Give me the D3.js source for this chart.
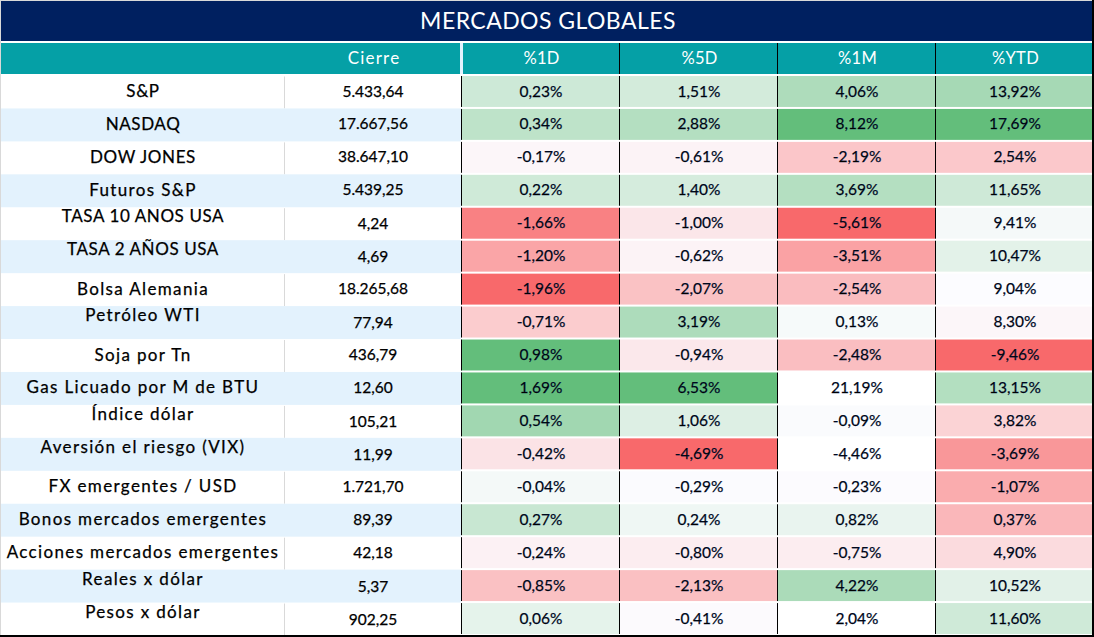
<!DOCTYPE html>
<html>
<head>
<meta charset="utf-8">
<script src="https://cdn.jsdelivr.net/npm/d3@7.9.0/dist/d3.min.js"></script>
<style>
  html, body { margin: 0; padding: 0; background: #fff; }
  svg { display: block; }
  text { font-family: "Lato", sans-serif; }
  .fila text { stroke: #000; stroke-width: 0.25; }
  .celda text { stroke: #002060; stroke-width: 0.25; }
</style>
</head>
<body>
<svg id="tabla" width="1094" height="637"></svg>
<script>
const titulo = 'MERCADOS GLOBALES';
const columnas = ['%1D', '%5D', '%1M', '%YTD'];

const activos = ['S&P', 'NASDAQ', 'DOW JONES', 'Futuros S&P', 'TASA 10 ANOS USA', 'TASA 2 AÑOS USA',
  'Bolsa Alemania', 'Petróleo WTI', 'Soja por Tn', 'Gas Licuado por M de BTU', 'Índice dólar',
  'Aversión el riesgo (VIX)', 'FX emergentes / USD', 'Bonos mercados emergentes',
  'Acciones mercados emergentes', 'Reales x dólar', 'Pesos x dólar'];

const cierre = [5433.64, 17667.56, 38647.10, 5439.25, 4.24, 4.69, 18265.68, 77.94, 436.79, 12.60,
  105.21, 11.99, 1721.70, 89.39, 42.18, 5.37, 902.25];

const var1D = [0.23, 0.34, -0.17, 0.22, -1.66, -1.20, -1.96, -0.71, 0.98, 1.69, 0.54, -0.42, -0.04, 0.27, -0.24, -0.85, 0.06];
const var5D = [1.51, 2.88, -0.61, 1.40, -1.00, -0.62, -2.07, 3.19, -0.94, 6.53, 1.06, -4.69, -0.29, 0.24, -0.80, -2.13, -0.41];
const var1M = [4.06, 8.12, -2.19, 3.69, -5.61, -3.51, -2.54, 0.13, -2.48, 21.19, -0.09, -4.46, -0.23, 0.82, -0.75, 4.22, 2.04];
const varYTD = [13.92, 17.69, 2.54, 11.65, 9.41, 10.47, 9.04, 8.30, -9.46, 13.15, 3.82, -3.69, -1.07, 0.37, 4.90, 10.52, 11.60];

// filas cuyo texto quedo alineado arriba en la planilla
const filasArriba = ['TASA 10 ANOS USA', 'TASA 2 AÑOS USA', 'Petróleo WTI', 'Índice dólar',
  'Aversión el riesgo (VIX)', 'Reales x dólar', 'Pesos x dólar'];

// celdas sin formato condicional
const sinColor = [['Gas Licuado por M de BTU', '%1M'], ['Aversión el riesgo (VIX)', '%1M'], ['Pesos x dólar', '%1M']];

// min, punto medio y max de cada escala de color
const rangoColor = [[-1.96, -0.1, 0.98], [-4.69, -0.35, 6.53], [-5.61, -0.2, 8.12], [-9.46, 9.04, 17.69]];

const series = [var1D, var5D, var1M, varYTD];

const svg = d3.select('#tabla');
const navy = '#002060', teal = '#05A0A6', celeste = '#E3F2FD';
const numero = d3.formatLocale({ decimal: ',', thousands: '.', grouping: [3], currency: ['', ''] }).format(',.2f');

const y = d3.scaleBand().domain(activos).range([75.5, 635.5]);
const x = d3.scaleBand().domain(columnas).range([461, 1093]);

const colorDe = columnas.map((c, i) => d3.scaleLinear()
  .domain(rangoColor[i])
  .range(['#F8696B', '#FCFCFF', '#63BE7B'])
  .clamp(true));

// titulo y encabezado
svg.append('rect').attr('x', 1).attr('y', 1).attr('width', 1092).attr('height', 40).attr('fill', navy);
svg.append('text').attr('x', 548).attr('y', 29).attr('text-anchor', 'middle')
  .attr('fill', '#fff').attr('font-size', 23).attr('letter-spacing', 0.45).text(titulo);

svg.append('rect').attr('x', 1).attr('y', 43).attr('width', 1092).attr('height', 31).attr('fill', teal);
svg.append('rect').attr('x', 460).attr('y', 43).attr('width', 3).attr('height', 31).attr('fill', celeste);
svg.append('text').attr('x', 374).attr('y', 64).attr('text-anchor', 'middle')
  .attr('fill', '#fff').attr('font-size', 17).attr('letter-spacing', 1.2).text('Cierre');

svg.selectAll('.enc').data(columnas).join('text')
  .attr('class', 'enc')
  .attr('x', d => x(d) + x.bandwidth() / 2 + 1.5)
  .attr('y', 64)
  .attr('text-anchor', 'middle')
  .attr('fill', '#fff')
  .attr('font-size', 16.5)
  .attr('letter-spacing', 0.3)
  .text(d => d);

svg.selectAll('.enc-linea').data(columnas.slice(1)).join('line')
  .attr('class', 'enc-linea')
  .attr('x1', d => x(d) + 0.5).attr('x2', d => x(d) + 0.5)
  .attr('y1', 43).attr('y2', 74)
  .attr('stroke', '#000');

// filas
const fila = svg.selectAll('.fila').data(activos).join('g').attr('class', 'fila');

fila.filter((d, i) => i % 2 === 1).append('rect')
  .attr('x', 1).attr('width', 460)
  .attr('y', d => y(d)).attr('height', y.bandwidth())
  .attr('fill', celeste);

fila.filter((d, i) => i % 2 === 0).append('line')
  .attr('x1', 284.5).attr('x2', 284.5)
  .attr('y1', d => y(d) + 1).attr('y2', d => y(d) + y.bandwidth())
  .attr('stroke', '#D9D9D9');

fila.append('text')
  .attr('class', 'activo')
  .attr('x', 143)
  .attr('y', d => y(d) + (filasArriba.includes(d) ? 15 : 21.5))
  .attr('text-anchor', 'middle')
  .attr('font-size', 17)
  .attr('letter-spacing', d => d === d.toUpperCase() ? 0.6 : 1.35)
  .text(d => d);

fila.append('text')
  .attr('x', 373)
  .attr('y', d => y(d) + (filasArriba.includes(d) ? 22 : 21))
  .attr('text-anchor', 'middle')
  .attr('font-size', 15.5)
  .text((d, i) => numero(cierre[i]));

// celdas de variacion
const celdas = activos.flatMap((a, f) => columnas.map((c, k) => ({ a, c, k, v: series[k][f] })));

const celda = svg.selectAll('.celda').data(celdas).join('g').attr('class', 'celda');

celda.append('rect')
  .attr('x', d => x(d.c))
  .attr('y', d => y(d.a) + 0.5)
  .attr('width', x.bandwidth())
  .attr('height', y.bandwidth() - 2)
  .attr('fill', d => sinColor.some(s => s[0] === d.a && s[1] === d.c) ? '#fff' : colorDe[d.k](d.v));

celda.append('line')
  .attr('x1', d => x(d.c) + 0.5).attr('x2', d => x(d.c) + 0.5)
  .attr('y1', d => y(d.a) + 0.5)
  .attr('y2', d => y(d.a) + y.bandwidth() - 1.5)
  .attr('stroke', '#000');

celda.append('text')
  .attr('x', d => x(d.c) + x.bandwidth() / 2 + 1)
  .attr('y', d => y(d.a) + 21)
  .attr('text-anchor', 'middle')
  .attr('font-size', 15.5)
  .text(d => d3.format('.2f')(d.v).replace('.', ',').replace('−', '-') + '%');

// borde
svg.append('rect').attr('x', 0).attr('y', 635).attr('width', 1094).attr('height', 2).attr('fill', '#000');
svg.append('line').attr('x1', 0.5).attr('x2', 0.5).attr('y1', 0).attr('y2', 635).attr('stroke', '#D9D9D9');
svg.append('line').attr('x1', 0).attr('x2', 1094).attr('y1', 0.5).attr('y2', 0.5).attr('stroke', '#D9D9D9');
svg.append('rect').attr('x', 1092).attr('y', 0).attr('width', 2).attr('height', 637).attr('fill', '#000');
</script>
</body>
</html>
